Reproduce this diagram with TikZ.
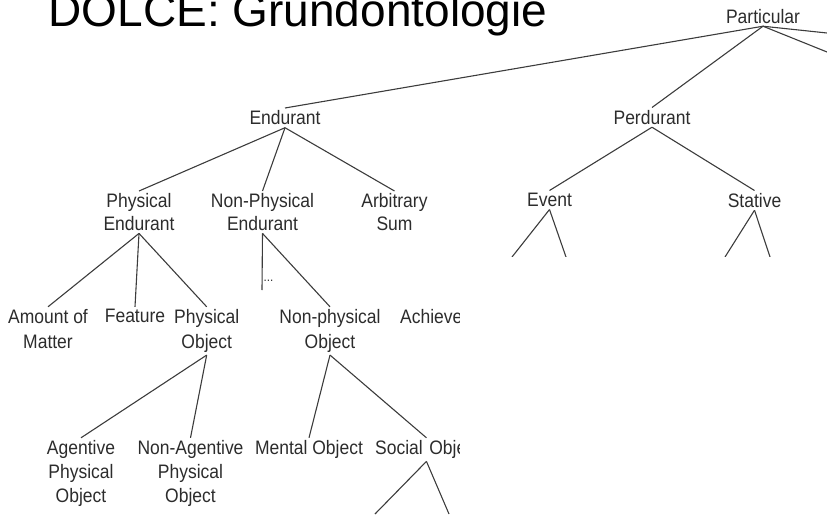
\documentclass[tikz,border=0pt]{standalone}
\usepackage{fontspec}
\setmainfont{Liberation Sans}
\newfontfamily\labelfont[FakeStretch=0.897]{Liberation Sans}
\definecolor{labelgray}{HTML}{2C2C2C}
\definecolor{edgegray}{HTML}{3C3C3C}
\begin{document}
\begin{tikzpicture}[x=1pt,y=-1pt,
  lab/.style={font=\labelfont\fontsize{19.5}{24}\selectfont, text=labelgray,
              inner sep=2.5pt, anchor=north, align=center},
  rowtwo/.style={lab, font=\labelfont\fontsize{19.5}{22.7}\selectfont},
  rowthree/.style={lab, font=\labelfont\fontsize{19.5}{24.7}\selectfont},
  rowfour/.style={lab, font=\labelfont\fontsize{19.5}{24}\selectfont},
  edge/.style={draw=edgegray, line width=1.1pt}]
\useasboundingbox (0,0) rectangle (827,514);
\clip (0,0) rectangle (827,514);

% heading
\node[anchor=base west, inner sep=0pt, font=\fontsize{46}{50}\selectfont]
  (title) at (48.5,26.5) {DOLCE: Grundontologie};

% top levels
\node[lab] (part) at (763,6.5) {Particular};
\node[lab] (end)  at (285,108) {Endurant};
\node[lab] (perd) at (652,107.5) {Perdurant};

% second level
\node[rowtwo] (pe)  at (139,191)   {Physical\\Endurant};
\node[rowtwo] (npe) at (262.5,191) {Non-Physical\\Endurant};
\node[rowtwo] (as)  at (394.5,191) {Arbitrary\\Sum};
\node[rowtwo] (ev)  at (549.5,190.5) {Event};
\node[rowtwo] (st)  at (754.5,190.5) {Stative};

% third level
\node[rowthree] (am)   at (48,306.8)    {Amount of\\Matter};
\node[rowthree] (feat) at (135,306.8)   {Feature};
\node[rowthree] (po)   at (206.7,306.8) {Physical\\Object};
\node[rowthree] (npo)  at (330,306.8)   {Non-physical\\Object};
\node[rowthree, anchor=north west] (ach) at (397.5,306.8) {Achieve};
\node[anchor=base west, inner sep=0pt, text=labelgray,
      font=\labelfont\fontsize{13}{14}\selectfont] (dots) at (263.5,281.5) {...};
\coordinate (dotsend) at (262,290);

% fourth level
\node[rowfour] (apo)  at (81,437.8)    {Agentive\\Physical\\Object};
\node[rowfour] (napo) at (190.5,437.8) {Non-Agentive\\Physical\\Object};
\node[rowfour] (mo)   at (309,437.8)   {Mental Object};
\node[rowfour, anchor=north west, text width=102.5pt, align=left]
  (so) at (372.5,437.8) {Social Obje};

% loose ends leaving the drawing
\coordinate (pr1) at (827,33);
\coordinate (pr2) at (827,52);
\coordinate (ev1) at (512,257);
\coordinate (ev2) at (566,257);
\coordinate (st1) at (725,257);
\coordinate (st2) at (770,257);
\coordinate (so1) at (375,514);
\coordinate (so2) at (449,514);

% connectors
\path[edge] (part.south) -- (end.north);
\path[edge] (part.south) -- (perd.north);
\path[edge] (part.south) -- (pr1);
\path[edge] (part.south) -- (pr2);
\path[edge] (end.south) -- (pe.north);
\path[edge] (end.south) -- (npe.north);
\path[edge] (end.south) -- (as.north);
\path[edge] (perd.south) -- (ev.north);
\path[edge] (perd.south) -- (st.north);
\path[edge] (pe.south) -- (am.north);
\path[edge] (pe.south) -- (feat.north);
\path[edge] (pe.south) -- (po.north);
\path[edge] (npe.south) -- (dotsend);
\path[edge] (npe.south) -- (npo.north);
\path[edge] (ev.south) -- (ev1);
\path[edge] (ev.south) -- (ev2);
\path[edge] (st.south) -- (st1);
\path[edge] (st.south) -- (st2);
\path[edge] (po.south) -- (apo.north);
\path[edge] (po.south) -- (napo.north);
\path[edge] (npo.south) -- (mo.north);
\path[edge] (npo.south) -- (so.north);
\path[edge] (so.south) -- (so1);
\path[edge] (so.south) -- (so2);

% blank panel over the lower right part
\fill[white] (460,256.5) rectangle (827,514);
\end{tikzpicture}
\end{document}
